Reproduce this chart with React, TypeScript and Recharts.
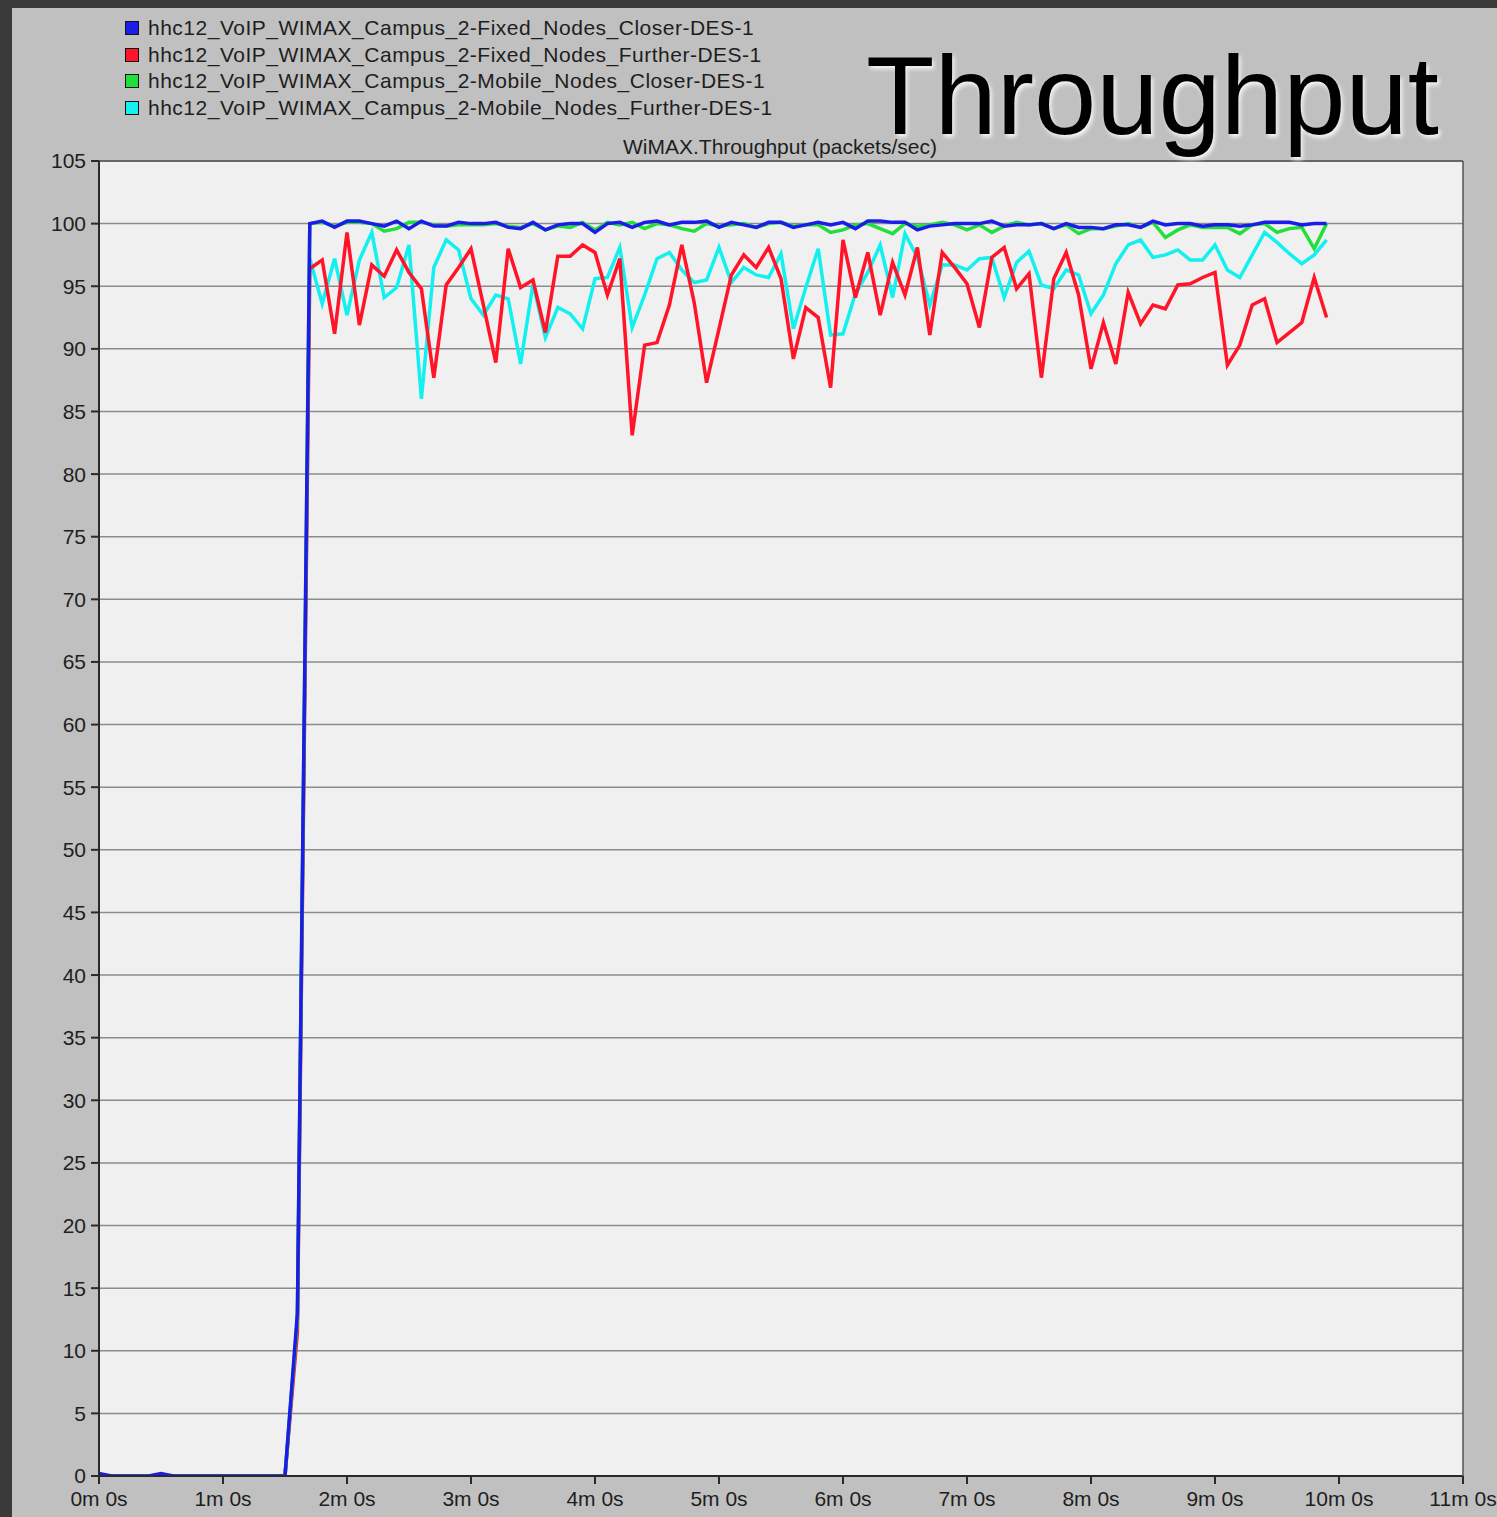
// WiMAX throughput (packets/sec) — four DES runs drawn as lines with Recharts
import React from 'react';
import {
  LineChart,
  Line,
  XAxis,
  YAxis,
  CartesianGrid,
} from 'recharts';

// sample times in minutes (one sample every 6 s)
const TIMES = [
  0, 0.1, 0.2, 0.3, 0.4, 0.5, 0.6, 0.7, 0.8, 0.9,
  1, 1.1, 1.2, 1.3, 1.4, 1.5, 1.6, 1.7, 1.8, 1.9,
  2, 2.1, 2.2, 2.3, 2.4, 2.5, 2.6, 2.7, 2.8, 2.9,
  3, 3.1, 3.2, 3.3, 3.4, 3.5, 3.6, 3.7, 3.8, 3.9,
  4, 4.1, 4.2, 4.3, 4.4, 4.5, 4.6, 4.7, 4.8, 4.9,
  5, 5.1, 5.2, 5.3, 5.4, 5.5, 5.6, 5.7, 5.8, 5.9,
  6, 6.1, 6.2, 6.3, 6.4, 6.5, 6.6, 6.7, 6.8, 6.9,
  7, 7.1, 7.2, 7.3, 7.4, 7.5, 7.6, 7.7, 7.8, 7.9,
  8, 8.1, 8.2, 8.3, 8.4, 8.5, 8.6, 8.7, 8.8, 8.9,
  9, 9.1, 9.2, 9.3, 9.4, 9.5, 9.6, 9.7, 9.8, 9.9,
];

// Fixed_Nodes_Closer
const FIXED_CLOSER = [
  0.2, 0, 0, 0, 0, 0.2, 0, 0, 0, 0,
  0, 0, 0, 0, 0, 0, 13.0, 100.0, 100.2, 99.7,
  100.2, 100.2, 100.0, 99.8, 100.2, 99.6, 100.2, 99.8, 99.8, 100.1,
  100.0, 100.0, 100.1, 99.7, 99.6, 100.1, 99.5, 99.9, 100.0, 100.0,
  99.3, 100.0, 100.1, 99.7, 100.1, 100.2, 99.9, 100.1, 100.1, 100.2,
  99.7, 100.1, 99.9, 99.7, 100.1, 100.1, 99.7, 99.9, 100.1, 99.9,
  100.1, 99.6, 100.2, 100.2, 100.1, 100.1, 99.5, 99.8, 99.9, 100.0,
  100.0, 100.0, 100.2, 99.8, 99.9, 99.9, 100.0, 99.6, 100.0, 99.7,
  99.7, 99.6, 99.9, 99.9, 99.7, 100.2, 99.9, 100.0, 100.0, 99.8,
  99.9, 99.9, 99.8, 99.9, 100.1, 100.1, 100.1, 99.9, 100.0, 100.0,
];

// Fixed_Nodes_Further
const FIXED_FURTHER = [
  0, 0, 0, 0, 0, 0, 0, 0, 0, 0,
  0, 0, 0, 0, 0, 0, 11.5, 96.4, 97.1, 91.2,
  99.3, 91.9, 96.7, 95.8, 97.9, 96.1, 94.8, 87.7, 95.1, 96.5,
  98.0, 93.5, 88.9, 98.0, 94.9, 95.5, 91.3, 97.4, 97.4, 98.3,
  97.7, 94.3, 97.2, 83.1, 90.3, 90.5, 93.5, 98.3, 93.7, 87.3,
  91.6, 95.9, 97.5, 96.5, 98.1, 95.6, 89.2, 93.3, 92.5, 86.9,
  98.7, 94.1, 97.7, 92.7, 96.9, 94.3, 98.1, 91.1, 97.7, 96.5,
  95.2, 91.7, 97.3, 98.1, 94.8, 96.0, 87.7, 95.6, 97.7, 94.3,
  88.4, 92.1, 88.8, 94.5, 92.0, 93.5, 93.2, 95.1, 95.2, 95.7,
  96.1, 88.7, 90.3, 93.5, 94.0, 90.5, 91.3, 92.1, 95.7, 92.5,
];

// Mobile_Nodes_Closer
const MOBILE_CLOSER = [
  0, 0, 0, 0, 0, 0, 0, 0, 0, 0,
  0, 0, 0, 0, 0, 0, 12.5, 100.0, 100.1, 99.8,
  100.1, 100.1, 100.0, 99.4, 99.6, 100.1, 100.1, 99.9, 99.8, 99.9,
  99.9, 99.9, 100.0, 99.8, 99.7, 100.0, 99.5, 99.8, 99.7, 100.1,
  99.5, 100.1, 99.9, 100.1, 99.6, 100.0, 99.9, 99.6, 99.4, 100.0,
  99.8, 99.9, 100.0, 99.7, 100.0, 100.1, 99.8, 99.9, 99.9, 99.3,
  99.5, 99.9, 100.0, 99.6, 99.2, 100.0, 99.8, 99.9, 100.1, 99.9,
  99.5, 99.9, 99.3, 99.8, 100.1, 99.9, 100.0, 99.6, 99.9, 99.2,
  99.6, 99.6, 99.8, 100.0, 99.7, 100.1, 98.9, 99.5, 99.9, 99.7,
  99.7, 99.7, 99.2, 99.9, 100.0, 99.3, 99.6, 99.7, 98.0, 100.0,
];

// Mobile_Nodes_Further
const MOBILE_FURTHER = [
  0, 0, 0, 0, 0, 0, 0, 0, 0, 0,
  0, 0, 0, 0, 0, 0, 12.5, 97.2, 93.6, 97.2,
  92.7, 97.1, 99.3, 94.1, 94.9, 98.3, 86.0, 96.5, 98.7, 97.9,
  94.0, 92.7, 94.3, 94.0, 88.8, 95.2, 90.9, 93.3, 92.8, 91.6,
  95.6, 95.7, 98.1, 91.7, 94.3, 97.2, 97.7, 96.3, 95.3, 95.5,
  98.1, 95.3, 96.5, 95.9, 95.7, 97.6, 91.6, 94.9, 98.0, 91.1,
  91.2, 94.4, 96.1, 98.3, 94.1, 99.2, 97.3, 93.5, 96.7, 96.7,
  96.3, 97.2, 97.3, 94.1, 96.9, 97.8, 95.1, 94.8, 96.3, 95.9,
  92.8, 94.3, 96.8, 98.3, 98.7, 97.3, 97.5, 97.9, 97.1, 97.1,
  98.3, 96.3, 95.7, 97.5, 99.3, 98.5, 97.6, 96.8, 97.5, 98.7,
];

const X_TICKS = [0, 1, 2, 3, 4, 5, 6, 7, 8, 9, 10, 11];
const Y_TICKS = [0, 5, 10, 15, 20, 25, 30, 35, 40, 45, 50, 55, 60, 65, 70, 75, 80, 85, 90, 95, 100, 105];

// legend order (top to bottom)
const SERIES = [
  { key: 'fixedCloser', name: 'hhc12_VoIP_WIMAX_Campus_2-Fixed_Nodes_Closer-DES-1', color: '#1c1ce8' },
  { key: 'fixedFurther', name: 'hhc12_VoIP_WIMAX_Campus_2-Fixed_Nodes_Further-DES-1', color: '#ff1428' },
  { key: 'mobileCloser', name: 'hhc12_VoIP_WIMAX_Campus_2-Mobile_Nodes_Closer-DES-1', color: '#22e03c' },
  { key: 'mobileFurther', name: 'hhc12_VoIP_WIMAX_Campus_2-Mobile_Nodes_Further-DES-1', color: '#12f0f0' },
];

// drawing order: cyan underneath, blue on top
const DRAW_ORDER = ['mobileFurther', 'fixedFurther', 'mobileCloser', 'fixedCloser'];

const chartData = TIMES.map((t, i) => ({
  t,
  fixedCloser: FIXED_CLOSER[i],
  fixedFurther: FIXED_FURTHER[i],
  mobileCloser: MOBILE_CLOSER[i],
  mobileFurther: MOBILE_FURTHER[i],
}));

const FONT = '"Liberation Sans", Arial, sans-serif';
const tickStyle = { fill: '#1e1e1e', fontSize: 21, fontFamily: FONT };

export default function App() {
  return (
    <div
      style={{
        position: 'absolute',
        left: 0,
        top: 0,
        width: 1497,
        height: 1517,
        background: '#3a3a3a',
        overflow: 'hidden',
      }}
    >
      {/* grey panel */}
      <div
        style={{
          position: 'absolute',
          left: 12,
          top: 8,
          width: 1485,
          height: 1509,
          background: '#c0c0c0',
        }}
      />

      <div style={{ position: 'absolute', left: 0, top: 0 }}>
        <LineChart
          width={1497}
          height={1517}
          data={chartData}
          margin={{ top: 160, right: 33, bottom: 1, left: 39 }}
        >
          <CartesianGrid
            vertical={false}
            fill="#f0f0f0"
            stroke="#8c8c8c"
            strokeWidth={1.5}
          />
          <XAxis
            dataKey="t"
            type="number"
            domain={[0, 11]}
            ticks={X_TICKS}
            tickFormatter={(v) => `${v}m 0s`}
            height={40}
            tick={tickStyle}
            tickSize={8}
            tickMargin={7}
            stroke="#2a2a2a"
            strokeWidth={2}
            interval={0}
            allowDataOverflow
          />
          <XAxis
            xAxisId="top"
            orientation="top"
            dataKey="t"
            type="number"
            domain={[0, 11]}
            height={1}
            tick={false}
            tickLine={false}
            stroke="#555"
            strokeWidth={1.5}
          />
          <YAxis
            type="number"
            domain={[0, 105]}
            ticks={Y_TICKS}
            width={60}
            tick={tickStyle}
            tickSize={8}
            tickMargin={5}
            stroke="#2a2a2a"
            strokeWidth={2}
            interval={0}
            allowDataOverflow
          />
          <YAxis
            yAxisId="right"
            orientation="right"
            type="number"
            domain={[0, 105]}
            width={1}
            tick={false}
            tickLine={false}
            stroke="#555"
            strokeWidth={1.5}
          />
          {DRAW_ORDER.map((k) => {
            const s = SERIES.find((x) => x.key === k)!;
            return (
              <Line
                key={k}
                type="linear"
                dataKey={k}
                name={s.name}
                stroke={s.color}
                strokeWidth={3.5}
                dot={false}
                isAnimationActive={false}
              />
            );
          })}
        </LineChart>
      </div>

      {/* legend */}
      <div style={{ position: 'absolute', left: 125, top: 15 }}>
        {SERIES.map((s) => (
          <div
            key={s.key}
            style={{
              display: 'flex',
              alignItems: 'center',
              height: 26.6,
            }}
          >
            <span
              style={{
                width: 12,
                height: 12,
                background: s.color,
                border: '1px solid #111',
                marginRight: 9,
              }}
            />
            <span
              style={{
                fontFamily: FONT,
                fontSize: 21,
                letterSpacing: 0.5,
                color: '#1e1e1e',
                whiteSpace: 'nowrap',
              }}
            >
              {s.name}
            </span>
          </div>
        ))}
      </div>

      {/* axis caption */}
      <div
        style={{
          position: 'absolute',
          left: 580,
          width: 400,
          top: 135,
          textAlign: 'center',
          fontFamily: FONT,
          fontSize: 21,
          color: '#1e1e1e',
          whiteSpace: 'nowrap',
        }}
      >
        WiMAX.Throughput (packets/sec)
      </div>

      {/* slide title */}
      <div
        style={{
          position: 'absolute',
          left: 866,
          top: 40,
          fontFamily: FONT,
          fontSize: 112,
          lineHeight: '112px',
          color: '#000',
          textShadow: '2px 3px 4px rgba(255,255,255,0.85)',
          whiteSpace: 'nowrap',
        }}
      >
        Throughput
      </div>
    </div>
  );
}
